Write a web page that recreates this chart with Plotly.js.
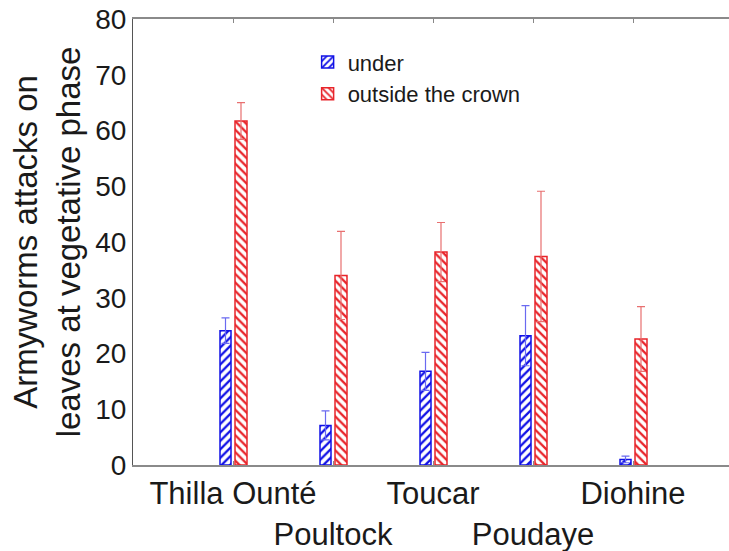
<!DOCTYPE html>
<html>
<head>
<meta charset="utf-8">
<script src="https://cdn.plot.ly/plotly-3.0.1.min.js"></script>
<style>
  html, body { margin: 0; padding: 0; background: #fff; }
  #chart { width: 729px; height: 551px; }
</style>
</head>
<body>
<div id="chart"></div>
<script>
// Sites (x positions 1..5) and their two-row tick labels
const sitePos = [1, 2, 3, 4, 5];
const siteLabels = ['Thilla Ounté', '<br>Poultock', 'Toucar', '<br>Poudaye', 'Diohine'];

// Mean armyworm attacks per site, with error bars
const underMean = [24.1, 7.1, 16.8, 23.2, 1.0];
const underErr = [2.3, 2.6, 3.4, 5.4, 0.6];
const outsideMean = [61.7, 34.0, 38.2, 37.4, 22.6];
const outsideErr = [3.3, 7.9, 5.3, 11.7, 5.8];

const yTicks = [0, 10, 20, 30, 40, 50, 60, 70, 80];

const FONT = 'Liberation Sans, Arial, Helvetica, sans-serif';

const under = {
  type: 'bar',
  name: 'under',
  x: sitePos,
  y: underMean,
  width: 0.11,
  offset: -0.13,
  marker: {
    color: '#ffffff',
    line: { color: '#1010e6', width: 1.5 },
    pattern: { shape: '/', fgcolor: '#1010e6', bgcolor: '#ffffff', size: 6, solidity: 0.38 }
  },
  error_y: { type: 'data', array: underErr, visible: true, color: '#6a6af0', thickness: 1.2, width: 4 }
};

const outside = {
  type: 'bar',
  name: 'outside the crown',
  x: sitePos,
  y: outsideMean,
  width: 0.12,
  offset: 0.02,
  marker: {
    color: '#ffffff',
    line: { color: '#e8242a', width: 1.5 },
    pattern: { shape: '\\', fgcolor: '#e8242a', bgcolor: '#ffffff', size: 6, solidity: 0.38 }
  },
  error_y: { type: 'data', array: outsideErr, visible: true, color: '#e87070', thickness: 1.2, width: 4 }
};

const layout = {
  width: 729,
  height: 551,
  margin: { l: 133, r: 0, t: 19, b: 86 },
  paper_bgcolor: '#ffffff',
  plot_bgcolor: '#ffffff',
  font: { family: FONT, color: '#1a1a1a' },
  showlegend: true,
  legend: {
    x: 0.293, y: 0.95, xanchor: 'left', yanchor: 'top',
    bgcolor: 'rgba(0,0,0,0)',
    font: { family: FONT, size: 22, color: '#1a1a1a' },
    itemwidth: 30,
    tracegroupgap: 0
  },
  xaxis: {
    range: [0, 5.96],
    tickvals: sitePos,
    ticktext: siteLabels,
    tickangle: 0,
    tickfont: { family: FONT, size: 31, color: '#1a1a1a' },
    ticks: 'inside',
    ticklen: 4,
    tickcolor: '#888888',
    showline: true,
    linecolor: '#8a8a8a',
    linewidth: 2,
    mirror: 'ticks',
    showgrid: false,
    zeroline: false,
    automargin: false,
    fixedrange: true
  },
  yaxis: {
    range: [0, 80],
    tickvals: yTicks,
    ticktext: yTicks.map(String),
    tickfont: { family: FONT, size: 28, color: '#1a1a1a' },
    ticks: '',
    showline: true,
    linecolor: '#555555',
    linewidth: 1,
    showgrid: false,
    zeroline: false,
    automargin: false,
    title: {
      text: 'Armyworms attacks on<br>leaves at vegetative phase',
      font: { family: FONT, size: 33, color: '#1a1a1a' },
      standoff: 4
    },
    fixedrange: true
  }
};

Plotly.newPlot('chart', [under, outside], layout, { displayModeBar: false, staticPlot: true });
</script>
</body>
</html>
